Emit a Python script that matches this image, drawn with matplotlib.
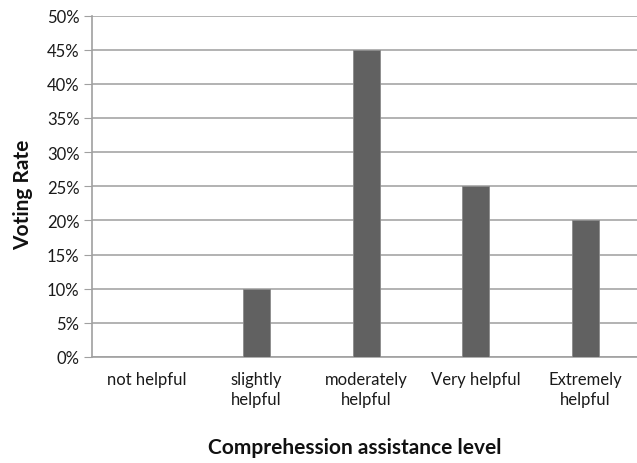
import matplotlib
matplotlib.use("Agg")
import matplotlib.pyplot as plt
from matplotlib.ticker import PercentFormatter

categories = ["not helpful", "slightly\nhelpful", "moderately\nhelpful", "Very helpful", "Extremely\nhelpful"]
values = [0, 10, 45, 25, 20]
yticks = [0, 5, 10, 15, 20, 25, 30, 35, 40, 45, 50]

plt.rcParams['font.family'] = ['Lato', 'DejaVu Sans']

fig = plt.figure(figsize=(6.37, 4.64), dpi=100)
ax = fig.add_axes([92/637, 1-358/464, 548.5/637, (358-16.5)/464])

x = list(range(len(categories)))
ax.bar(x, values, width=0.246, color="#616161", edgecolor="#8a8a8a", linewidth=0.6, zorder=3)
ax.set_xlim(-0.5, len(categories) - 0.5)
ax.set_ylim(0, 50)
ax.set_yticks(yticks)
ax.yaxis.set_major_formatter(PercentFormatter(decimals=0))
ax.set_xticks(x)
ax.set_xticklabels(categories, fontsize=12, color="#1a1a1a", linespacing=1.3)
ax.tick_params(axis='y', labelsize=12, labelcolor="#1a1a1a", length=6, color="#a0a0a0", pad=3)
ax.tick_params(axis='x', length=0, pad=10)
ax.grid(axis='y', color="#a6a6a6", linewidth=1.2, zorder=0)
for s in ['top', 'right']:
    ax.spines[s].set_visible(False)
ax.spines['left'].set_color("#a0a0a0")
ax.spines['bottom'].set_color("#a0a0a0")
ax.spines['left'].set_linewidth(1.2)
ax.spines['bottom'].set_linewidth(1.2)

fig.text(23/637, 1-195/464, "Voting Rate", rotation=90, fontsize=15, fontweight='bold',
         ha='center', va='center', color="#111111")
fig.text(355/637, 1-448/464, "Comprehession assistance level", fontsize=15, fontweight='bold',
         ha='center', va='center', color="#111111")

fig.savefig("out.png", dpi=100)
